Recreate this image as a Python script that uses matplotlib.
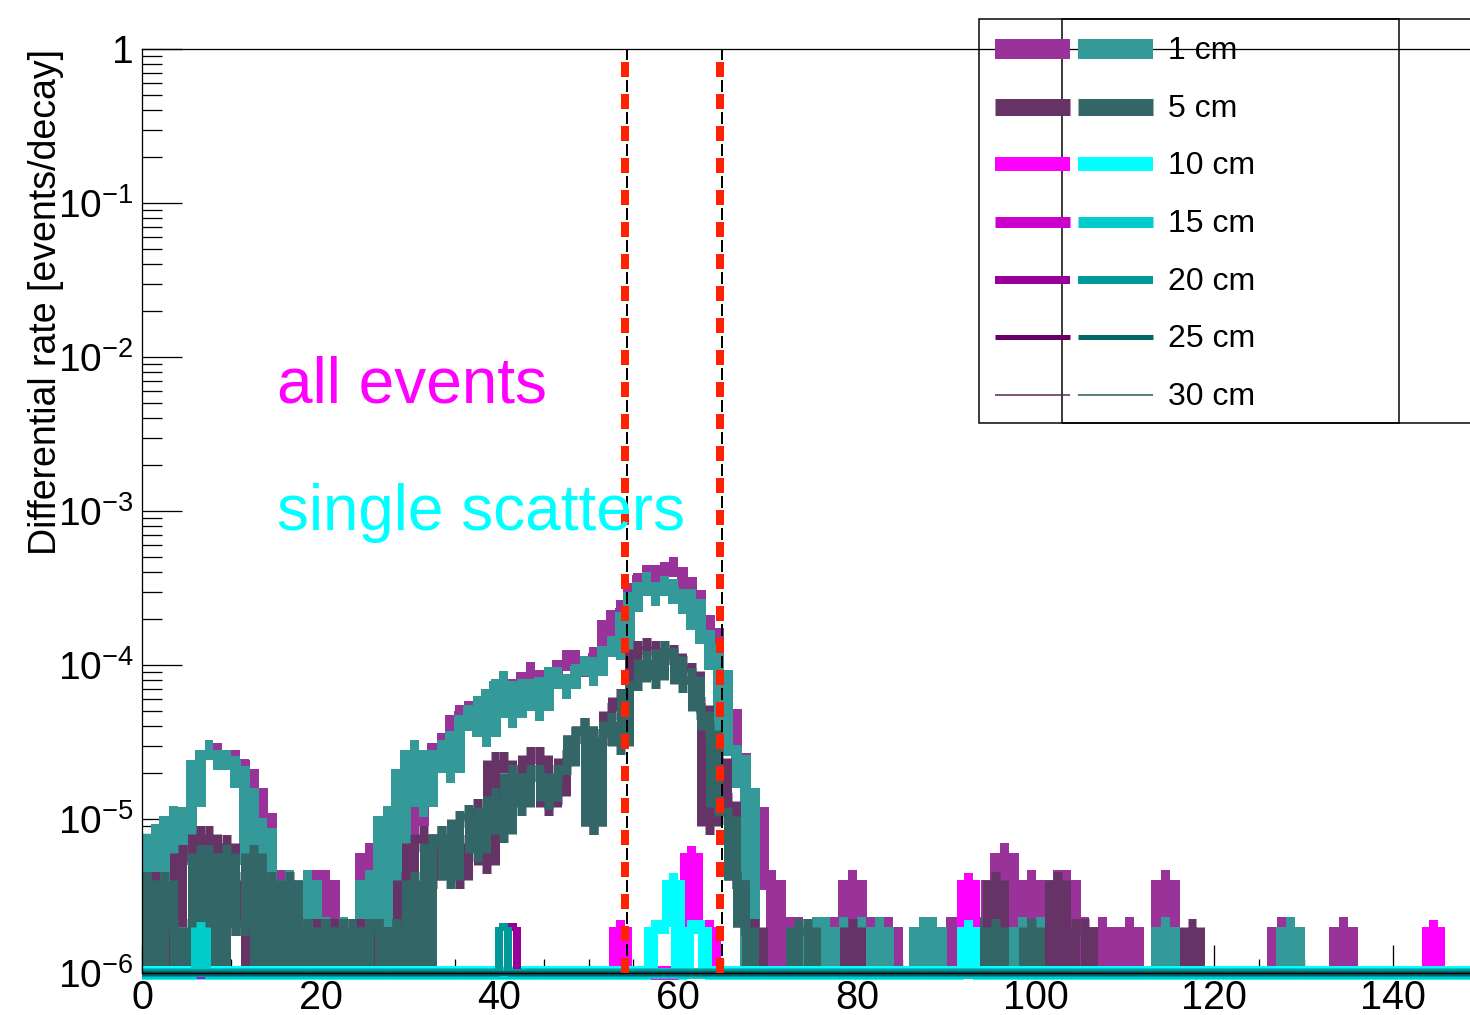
import numpy as np
import matplotlib
matplotlib.use("Agg")
import matplotlib.pyplot as plt
from matplotlib.collections import LineCollection
from matplotlib.lines import Line2D
from matplotlib.patches import Rectangle
from matplotlib.ticker import FixedLocator, FixedFormatter, NullFormatter

plt.rcParams['font.family'] = ['Liberation Sans', 'DejaVu Sans']
plt.rcParams['mathtext.fontset'] = 'custom'
plt.rcParams['mathtext.rm'] = 'Liberation Sans'
plt.rcParams['mathtext.it'] = 'Liberation Sans:italic'
plt.rcParams['mathtext.bf'] = 'Liberation Sans:bold'
plt.rcParams['lines.scale_dashes'] = False

# ---------------- data (values in units of 1e-6 events/decay, 1-unit bins from 0) -------------
BIN_LO, BIN_W, NBINS = 0.0, 1.0, 150

all_1cm = [5, 7.5, 4, 10.5, 5, 12, 24, 28, 27, 24, 24, 21, 16, 11, 4, 4, 4, 0, 4, 4,
           4, 0, 2, 0, 2, 6, 6, 4, 2, 9, 9, 21, 21, 31, 28, 47, 50, 54, 49, 70,
           79, 70, 72, 90, 80, 84, 92, 108, 108, 97, 113, 119, 195, 226, 233, 340, 383, 383, 400, 432,
           371, 305, 211, 173, 93, 52, 27, 16, 12, 4, 4, 0, 2, 2, 0, 2, 0, 2, 0, 4,
           0, 2, 0, 2, 0, 0, 0, 2, 0, 0, 2, 2, 0, 2, 0, 4, 6, 0, 0, 4,
           0, 2, 4, 4, 0, 2, 0, 2, 0, 0, 2, 0, 0, 0, 4, 0, 0, 0, 0, 0,
           0, 0, 0, 0, 0, 0, 0, 2, 2, 0, 0, 0, 0, 0, 2, 0, 0, 0, 0, 0,
           0, 0, 0, 0, 0, 0, 0, 0, 0, 0]
single_1cm = [4, 8, 4, 10.5, 5, 12, 24, 28, 24, 24, 22, 16, 5, 8.7, 4, 0, 4, 2, 4, 0,
              2, 0, 2, 0, 2, 4, 0, 10.5, 4, 21, 28, 12, 21, 28, 20, 37, 47, 54, 34, 70,
              79, 45, 70, 70, 50, 84, 84, 70, 88, 98, 85, 113, 133, 125, 220, 297, 345, 280, 325, 310,
              250, 267, 170, 137, 93, 30, 26, 16, 0, 0, 0, 0, 0, 0, 0, 2, 2, 0, 2, 0,
              2, 0, 2, 0, 0, 0, 0, 2, 2, 0, 0, 0, 0, 0, 0, 0, 2, 0, 2, 0,
              2, 0, 2, 0, 0, 0, 0, 0, 0, 0, 0, 0, 0, 0, 2, 0, 0, 0, 0, 0,
              0, 0, 0, 0, 0, 0, 0, 0, 2, 0, 0, 0, 0, 0, 0, 0, 0, 0, 0, 0,
              0, 0, 0, 0, 0, 0, 0, 0, 0, 0]
all_5cm = [4, 4, 0, 2, 6, 6, 8, 8, 0, 7, 2, 4, 0, 4, 2, 0, 2, 2, 0, 2,
           0, 2, 0, 2, 2, 0, 2, 0, 2, 4, 7, 8, 4, 8, 7, 4, 7, 12, 5, 24,
           24, 20, 20, 26, 26, 12, 14, 25, 35, 40, 9, 34, 50, 62, 70, 127, 132, 127, 115, 120,
           102, 91, 55, 9, 25, 13, 4, 2, 2, 0, 0, 0, 0, 0, 0, 0, 0, 0, 0, 2,
           0, 0, 0, 0, 0, 0, 0, 0, 0, 0, 0, 0, 0, 0, 0, 4, 0, 0, 0, 0,
           0, 0, 4, 0, 2, 2, 0, 0, 0, 0, 0, 0, 0, 0, 0, 0, 0, 2, 0, 0,
           0, 0, 0, 0, 0, 0, 0, 0, 0, 0, 0, 0, 0, 0, 0, 0, 0, 0, 0, 0,
           0, 0, 0, 0, 0, 0, 0, 0, 0, 0]
single_5cm = [4, 0, 4, 2, 0, 2, 6, 6, 0, 6, 2, 2, 6, 0, 4, 0, 4, 0, 2, 0,
              2, 0, 2, 2, 0, 2, 2, 0, 2, 0, 4, 0, 7, 8, 4, 10, 11, 6, 12, 14,
              8, 20, 12, 20, 20, 13, 20, 22, 35, 40, 9, 34, 43, 30, 70, 78, 110, 80, 127, 115,
              75, 85, 50, 38, 12, 10.5, 4, 2, 0, 0, 0, 0, 0, 2, 2, 0, 0, 0, 0, 0,
              0, 0, 0, 0, 0, 0, 0, 0, 0, 0, 0, 0, 0, 2, 0, 2, 0, 0, 0, 2,
              0, 0, 0, 0, 0, 0, 0, 0, 0, 0, 0, 0, 0, 0, 0, 0, 0, 0, 0, 0,
              0, 0, 0, 0, 0, 0, 0, 0, 0, 0, 0, 0, 0, 0, 0, 0, 0, 0, 0, 0,
              0, 0, 0, 0, 0, 0, 0, 0, 0, 0]
# sparse series: (bin index, value)
all_10cm = [(53, 2), (61, 6), (62, 2), (63, 2), (92, 4), (144, 2)]
single_10cm = [(57, 2), (58, 2), (59, 4), (61, 2), (62, 2), (92, 2)]
all_15cm = []
single_15cm = [(6, 2)]
all_20cm = [(40, 2), (41, 2)]
single_20cm = [(40, 2)]
all_25cm = []
single_25cm = []
all_30cm = []
single_30cm = []

distances = ['1 cm', '5 cm', '10 cm', '15 cm', '20 cm', '25 cm', '30 cm']
colors_all = ['#993399', '#663366', '#ff00ff', '#cc00cc', '#990099', '#660066', '#552255']
colors_single = ['#339999', '#336666', '#00ffff', '#00cccc', '#009999', '#006666', '#225555']
widths_px = [20, 17, 14, 11, 8, 5, 1.5]

window_lo, window_hi = 54.05, 64.7

x_ticks = [0, 20, 40, 60, 80, 100, 120, 140]
y_ticks = [1e-6, 1e-5, 1e-4, 1e-3, 1e-2, 1e-1, 1]
y_labels = [r'$10^{-6}$', r'$10^{-5}$', r'$10^{-4}$', r'$10^{-3}$', r'$10^{-2}$', r'$10^{-1}$', '1']

# ---------------- figure ----------------
W, H, DPI = 1470, 1015, 100
PT = 72.0 / DPI
fig = plt.figure(figsize=(W / DPI, H / DPI), dpi=DPI)
X0, XPU = 142, 8.936
YT, YB = 49, 973
ax = fig.add_axes([X0 / W, 1 - YB / H, (NBINS * XPU) / W, (YB - YT) / H])
ax.set_yscale('log')
ax.set_xlim(BIN_LO, BIN_LO + NBINS * BIN_W)
ax.set_ylim(1e-6, 1)
ax.set_axisbelow(True)


def dense(v):
    a = np.zeros(NBINS)
    if len(v) and isinstance(v[0], tuple):
        for i, val in v:
            a[i] = val
        return a
    a[:len(v)] = v
    return a


def draw_hist(values, color, lw_px, floor, clip):
    v = dense(values)
    y = np.where(v > 0, v * 1e-6, floor)
    e = BIN_LO + np.arange(NBINS + 1) * BIN_W
    segs = [[(e[i], y[i]), (e[i + 1], y[i])] for i in range(NBINS)]
    prev = np.concatenate([[floor], y])
    nxt = np.concatenate([y, [floor]])
    for i in range(NBINS + 1):
        if prev[i] != nxt[i]:
            segs.append([(e[i], prev[i]), (e[i], nxt[i])])
    lc = LineCollection(segs, colors=color, linewidths=lw_px * PT, capstyle='butt',
                        clip_on=clip, zorder=2)
    ax.add_collection(lc)


series_all = [all_1cm, all_5cm, all_10cm, all_15cm, all_20cm, all_25cm, all_30cm]
series_single = [single_1cm, single_5cm, single_10cm, single_15cm, single_20cm, single_25cm, single_30cm]
for k in range(len(distances)):
    clipped = k < 2
    floor = 1e-7 if clipped else 1e-6
    draw_hist(series_all[k], colors_all[k], widths_px[k], floor, clipped)
    draw_hist(series_single[k], colors_single[k], widths_px[k], floor, clipped)

# energy window lines
for xv in (window_lo, window_hi):
    ax.plot([xv, xv], [1e-6, 1], color='#ff2200', lw=8 * PT,
            linestyle=(0, (15 * PT, 17 * PT)), zorder=3)
    ax.plot([xv + 0.17, xv + 0.17], [1e-6, 1], color='black', lw=2 * PT,
            linestyle=(15 * PT, (12 * PT, 20 * PT)), zorder=3)

# axes styling
for s in ['left', 'top', 'bottom']:
    ax.spines[s].set_linewidth(1.3 * PT)
ax.spines['right'].set_visible(False)
ax.yaxis.set_major_locator(FixedLocator(y_ticks))
ax.yaxis.set_major_formatter(FixedFormatter(y_labels))
ax.yaxis.set_minor_locator(FixedLocator([m * 10.0 ** p for p in range(-6, 0) for m in range(2, 10)]))
ax.yaxis.set_minor_formatter(NullFormatter())
ax.xaxis.set_major_locator(FixedLocator(x_ticks))
ax.xaxis.set_major_formatter(FixedFormatter([str(t) for t in x_ticks]))
ax.xaxis.set_minor_locator(FixedLocator(np.arange(0, 151, 5)))
ax.tick_params(axis='y', which='major', direction='in', length=40 * PT, width=1.3 * PT,
               labelsize=28, pad=6)
ax.tick_params(axis='y', which='minor', direction='in', length=20 * PT, width=1.3 * PT)
ax.tick_params(axis='x', which='major', direction='in', length=28 * PT, width=1.3 * PT,
               labelsize=28.5, pad=4)
ax.tick_params(axis='x', which='minor', direction='in', length=14 * PT, width=1.3 * PT)
ax.tick_params(top=False, right=False)

# annotations
ax.text(15.1, 5.1e-3, 'all events', color='#ff00ff', fontsize=46, va='baseline', ha='left', zorder=4)
ax.text(15.1, 7.5e-4, 'single scatters', color='#00ffff', fontsize=46, va='baseline', ha='left', zorder=4)

fig.text(46 / W, 1 - 49 / H, 'Differential rate [events/decay]', rotation=90,
         ha='center', va='top', fontsize=27)


# legends (two overlaid transparent boxes)
def fx(px):
    return px / W


def fy(py):
    return 1 - py / H


for left in (979, 1062):
    fig.patches.append(Rectangle((fx(left), fy(423)), 420 / W, 404 / H, fill=False,
                                 edgecolor='black', linewidth=1.5 * PT,
                                 transform=fig.transFigure, zorder=5))
for k, lab in enumerate(distances):
    yy = 49 + 57.67 * k
    fig.add_artist(Line2D([fx(995), fx(1070)], [fy(yy), fy(yy)], color=colors_all[k],
                          lw=widths_px[k] * PT, solid_capstyle='butt',
                          transform=fig.transFigure, zorder=6))
    fig.add_artist(Line2D([fx(1078), fx(1153)], [fy(yy), fy(yy)], color=colors_single[k],
                          lw=widths_px[k] * PT, solid_capstyle='butt',
                          transform=fig.transFigure, zorder=6))
    fig.text(fx(1168), fy(yy + 2), lab, ha='left', va='center', fontsize=23, zorder=6)

fig.savefig('out.png', dpi=DPI)
